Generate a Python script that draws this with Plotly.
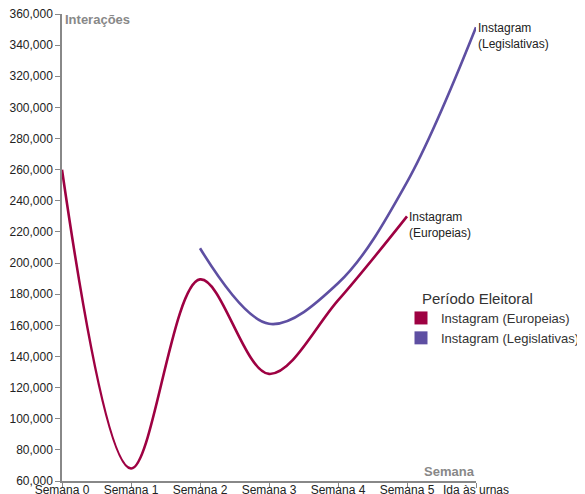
import plotly.graph_objects as go

semanas = ["Semana 0", "Semana 1", "Semana 2", "Semana 3", "Semana 4", "Semana 5", "Ida às urnas"]
europeias = [260000, 68000, 189500, 128800, 176000, 230000, None]
legislativas = [None, None, 209500, 161000, 187000, 252000, 351500]
nome_eur = "Instagram (Europeias)"
nome_leg = "Instagram (Legislativas)"
cor_eur = "#9e0142"
cor_leg = "#5e4fa2"

xi = list(range(len(semanas)))

# the page body adds an 8px offset; figure is sized to fit the 585x494 window
OFF = 8
W, H = 585 - OFF, 494 - OFF
L, R, T, B = 62 - OFF, 585 - 476, 14 - OFF, 494 - 481

fig = go.Figure()
fig.add_trace(go.Scatter(x=xi, y=europeias, mode="lines", line=dict(color=cor_eur, width=2.6, shape="spline", smoothing=1),
                         showlegend=False, connectgaps=False, hoverinfo="skip"))
fig.add_trace(go.Scatter(x=xi, y=legislativas, mode="lines", line=dict(color=cor_leg, width=2.6, shape="spline", smoothing=1),
                         showlegend=False, connectgaps=False, hoverinfo="skip"))
# legend entries (square swatches)
fig.add_trace(go.Scatter(x=[None], y=[None], mode="markers", name=nome_eur,
                         marker=dict(symbol="square", size=13, color=cor_eur)))
fig.add_trace(go.Scatter(x=[None], y=[None], mode="markers", name=nome_leg,
                         marker=dict(symbol="square", size=13, color=cor_leg)))

# end labels
fig.add_annotation(x=5, y=europeias[5], text="Instagram<br>(Europeias)", showarrow=False,
                   xanchor="left", yanchor="top", yshift=8, align="left",
                   font=dict(size=12, color="#222"))
fig.add_annotation(x=6, y=legislativas[6], text="Instagram<br>(Legislativas)", showarrow=False,
                   xanchor="left", yanchor="top", yshift=8, align="left",
                   font=dict(size=12, color="#222"))

# axis titles
fig.add_annotation(x=0, y=360000, text="<b>Interações</b>", showarrow=False, xanchor="left", yanchor="top",
                   yshift=4, xshift=1, font=dict(size=13, color="#888"))
fig.add_annotation(x=6, y=60000, text="<b>Semana</b>", showarrow=False, xanchor="right", yanchor="bottom",
                   yshift=0, xshift=1, font=dict(size=13, color="#888"))

# legend title
pw, ph = 476 - 62, 481 - 14
fig.add_annotation(xref="paper", yref="paper", x=(420 - 62) / pw, y=(481 - 288) / ph,
                   text="Período Eleitoral", showarrow=False, xanchor="left", yanchor="top",
                   font=dict(size=15, color="#333"))

fig.update_layout(
    width=W, height=H,
    margin=dict(l=L, r=R, t=T, b=B, autoexpand=False),
    plot_bgcolor="white", paper_bgcolor="white",
    font=dict(family="Liberation Sans, Arial, sans-serif", size=12, color="#222"),
    legend=dict(xref="container", yref="container",
                x=(401 - OFF) / W, y=1 - (303 - OFF) / H, xanchor="left", yanchor="top",
                font=dict(size=13, color="#333"), bgcolor="rgba(0,0,0,0)",
                itemwidth=30, tracegroupgap=0),
)
fig.update_xaxes(range=[0, 6], tickmode="array", tickvals=xi, ticktext=semanas,
                 showgrid=False, zeroline=False, showline=True, linecolor="#888", linewidth=1.5,
                 ticks="outside", ticklen=5, tickcolor="#888", ticklabelstandoff=-8,
                 ticklabeloverflow="allow",
                 tickfont=dict(size=12, color="#222"), automargin=False)
fig.update_yaxes(range=[60000, 360000], dtick=20000, tickformat=",",
                 showgrid=False, zeroline=False, showline=True, linecolor="#888", linewidth=1.5,
                 ticks="outside", ticklen=5, tickcolor="#888", ticklabeloverflow="allow",
                 tickfont=dict(size=12, color="#222"), automargin=False)

fig.write_html("out.html")
